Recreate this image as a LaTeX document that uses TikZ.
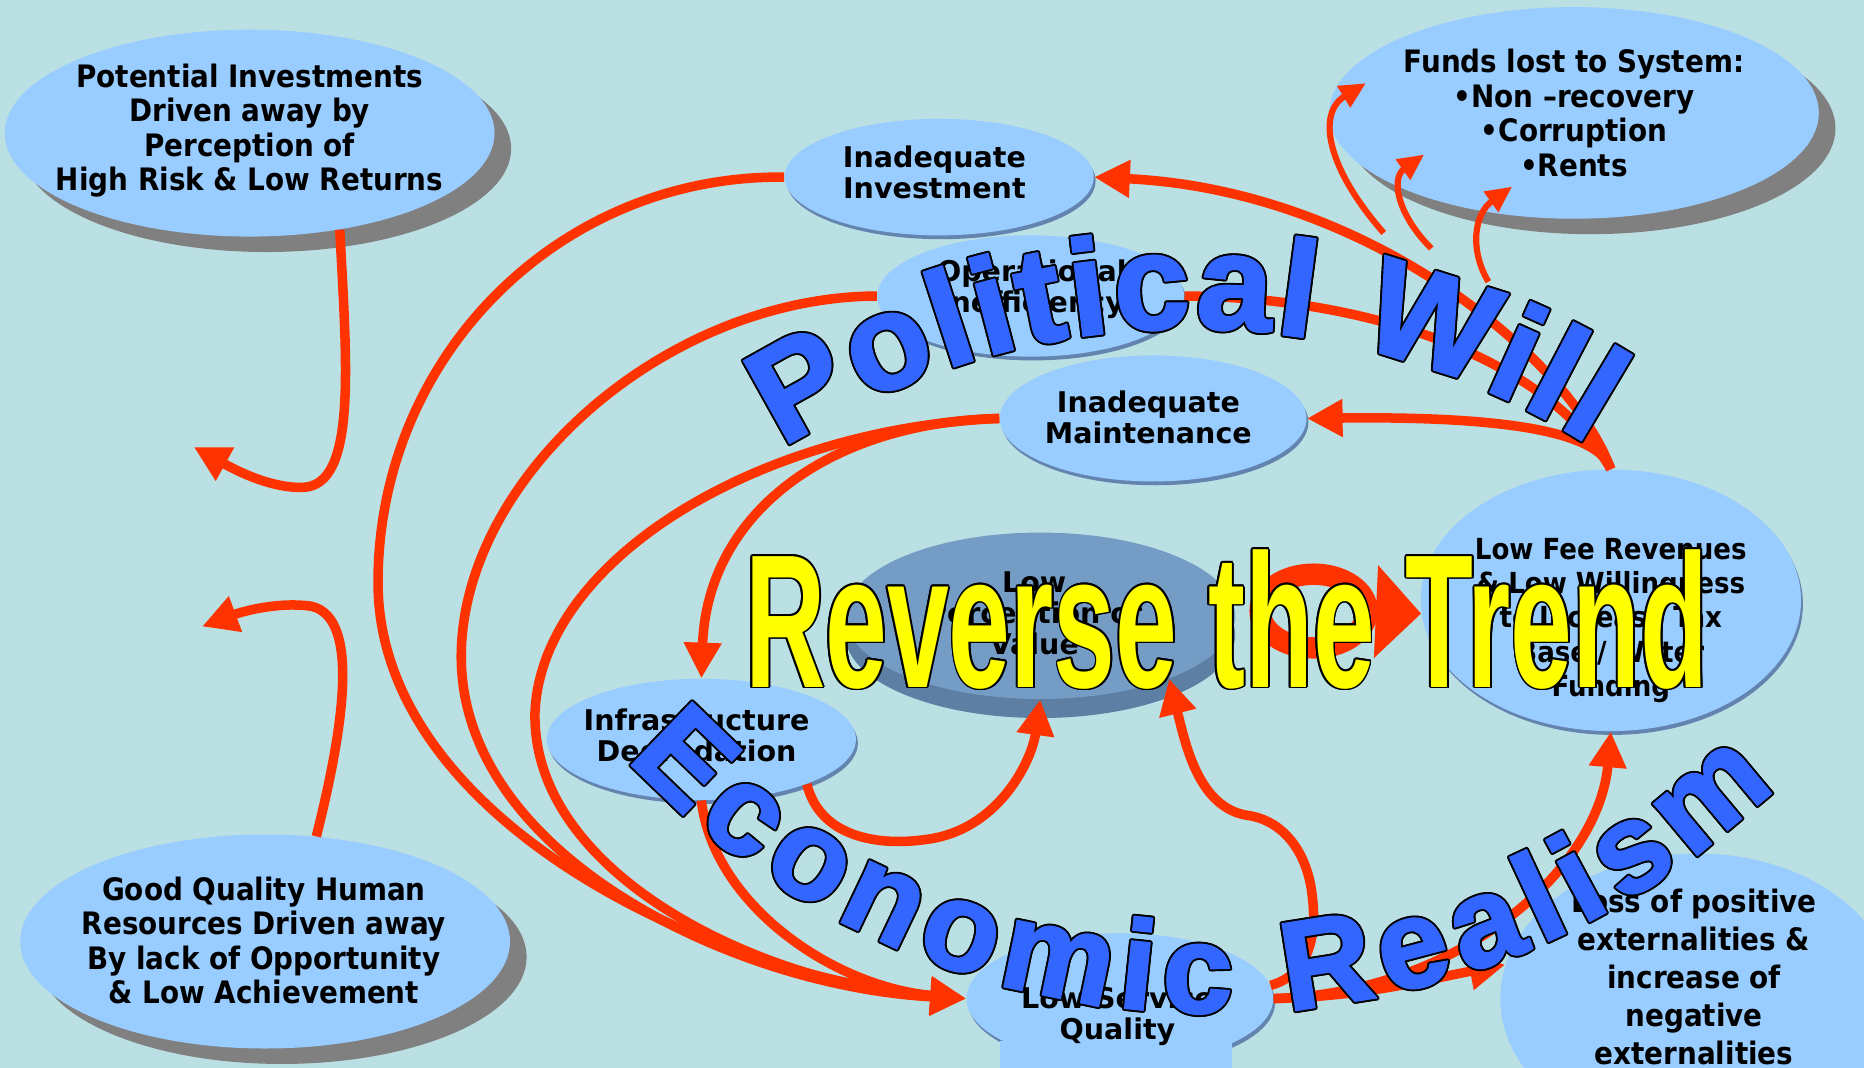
\documentclass[tikz,border=0pt]{standalone}
\usepackage{fontspec}
\usetikzlibrary{shapes.geometric,arrows.meta,shadows,decorations.text}
\newfontfamily\condb{DejaVu Sans Condensed Bold}
\newfontfamily\boldf{DejaVu Sans Bold}
\newfontfamily\wafont[FakeBold=2]{Liberation Sans Bold}
\newfontfamily\revfont{Liberation Sans Bold}
\definecolor{bgcol}{RGB}{187,224,227}
\definecolor{ellblue}{RGB}{153,204,255}
\definecolor{shgray}{RGB}{128,128,128}
\definecolor{edgeblue}{RGB}{100,132,176}
\definecolor{lptop}{RGB}{116,156,196}
\definecolor{lpband}{RGB}{93,127,163}
\definecolor{arrred}{RGB}{255,51,0}
\definecolor{wablue}{RGB}{51,102,255}
\definecolor{revyellow}{RGB}{255,255,0}
\begin{document}
\begin{tikzpicture}[x=0.5pt,y=-0.5pt,
  ell/.style={ellipse, fill=ellblue, inner sep=0pt},
  outerell/.style={ell, drop shadow={shadow xshift=7pt, shadow yshift=-6.5pt, fill=shgray, opacity=1}},
  innerell/.style={ell, drop shadow={shadow xshift=0.8pt, shadow yshift=-1.6pt, fill=edgeblue, opacity=1}},
  lpell/.style={ellipse, fill=lptop, inner sep=0pt, drop shadow={shadow xshift=0pt, shadow yshift=-8pt, fill=lpband, opacity=1}},
  otxt/.style={font=\condb\fontsize{13}{14.5}\selectfont, align=center, inner sep=0pt},
  itxt/.style={font=\boldf\fontsize{12}{13}\selectfont, align=center, inner sep=0pt},
  ftxt/.style={font=\condb\fontsize{12.2}{14.5}\selectfont, align=center, inner sep=0pt},
  ltxt/.style={font=\condb\fontsize{13}{16}\selectfont, align=center, inner sep=0pt},
  arr/.style={draw=arrred, line width=4pt, -{Triangle[length=15pt,width=15pt]}},
  plainline/.style={draw=arrred, line width=4pt},
  thinarr/.style={draw=arrred, line width=2.6pt, -{Triangle[length=11pt,width=10pt]}},
  ringline/.style={draw=arrred, line width=9pt},
  revtxt/.style={font=\revfont\fontsize{80}{80}\selectfont, anchor=base, inner sep=0pt}
]
\useasboundingbox (0,0) rectangle (1568,898);
\fill[bgcol] (0,0) rectangle (1568,898);

% ellipses
\node[outerell, minimum width=206pt, minimum height=87pt] (pot) at (210,112) {};
\node[outerell, minimum width=206pt, minimum height=90pt] (good) at (223,792) {};
\node[outerell, minimum width=206pt, minimum height=89pt] (funds) at (1324,95) {};
\node[ell, minimum width=166pt, minimum height=122pt] (loss) at (1428,840) {};
\node[innerell, minimum width=130pt, minimum height=49pt] (inv) at (790,149) {};
\node[innerell, minimum width=129pt, minimum height=51pt] (oper) at (867,249) {};
\node[innerell, minimum width=129pt, minimum height=53pt] (maint) at (970,352) {};
\node[lpell, minimum width=164pt, minimum height=70pt] (lp) at (875,518) {};
\node[innerell, minimum width=160pt, minimum height=110pt] (lowfee) at (1355,505) {};
\node[innerell, minimum width=130pt, minimum height=51pt] (infra) at (590,622) {};
\node[innerell, minimum width=129pt, minimum height=55pt] (lsq) at (942,840) {};
\fill[ellblue] (841,876) rectangle (1036,898);

% texts
\node[otxt] (potT) at (210,110) {Potential Investments\\Driven away by\\Perception of\\High Risk \& Low Returns};
\node[otxt] (goodT) at (222,791) {Good Quality Human\\Resources Driven away\\By lack of Opportunity\\\& Low Achievement};
\node[otxt] (fundsT) at (1324,95) {Funds lost to System:\\•Non –recovery\\•Corruption\\•Rents};
\node[ltxt] (lossT) at (1425,822) {Loss of positive\\externalities \&\\increase of\\negative\\externalities};
\node[itxt] (invT) at (786,145) {Inadequate\\Investment};
\node[itxt] (operT) at (868,243) {Operational\\Inefficiency};
\node[itxt] (maintT) at (966,351) {Inadequate\\Maintenance};
\node[itxt] (lpT) at (870,516) {Low\\Perception of\\Value};
\node[ftxt] (lowfeeT) at (1355,522) {Low Fee Revenues\\\& Low Willingness\\to Increase Tax\\Base / Water\\Funding};
\node[itxt] (infraT) at (586,621) {Infrastructure\\Degradation};
\node[itxt] (lsqT) at (940,855) {Low Service\\Quality};

% free ends
\coordinate (pfree) at (163,376);
\coordinate (gfree) at (170,527);
\coordinate (f1s) at (1164,196);
\coordinate (f1t) at (1149,70);
\coordinate (f2s) at (1204,209);
\coordinate (f2t) at (1198,130);
\coordinate (f3s) at (1252,237);
\coordinate (f3t) at (1272,157);
\coordinate (ringc) at (1105,514);

% arrows
\draw[arr] (pot.-47) .. controls (292,310) and (300,408) .. (255,410) .. controls (225,411) and (192,392) .. (pfree);
\draw[arr] (good.64) .. controls (287,620) and (305,520) .. (262,510) .. controls (235,506) and (205,514) .. (gfree);
\draw[arr] (inv.west) .. controls (470,147) and (318,300) .. (318,490) .. controls (318,690) and (600,822) .. (lsq.west);
\draw[arr] (oper.west) .. controls (560,250) and (390,400) .. (388,550) .. controls (386,720) and (620,830) .. (lsq.west);
\draw[arr] (maint.west) .. controls (640,360) and (455,470) .. (450,600) .. controls (448,740) and (650,830) .. (lsq.west);
\draw[arr] (maint.west) .. controls (700,355) and (595,430) .. (infra.north);
\draw[arr] (infra.south) .. controls (600,760) and (700,830) .. (lsq.west);
\draw[arr] (infra.-23) .. controls (690,705) and (740,712) .. (780,706) .. controls (840,698) and (868,640) .. (lp.south);
\draw[arr] (lsq.5) .. controls (1100,820) and (1108,790) .. (1104,755) .. controls (1100,715) and (1078,690) .. (1050,686) .. controls (1008,680) and (997,625) .. (lp.-26);
\draw[arr] (lsq.east) .. controls (1150,838) and (1200,824) .. (loss.170);
\draw[arr] (lsq.east) .. controls (1230,835) and (1345,730) .. (lowfee.south);
\draw[arr] (lowfee.north) .. controls (1345,362) and (1260,350) .. (maint.east);
\draw[arr] (lowfee.north) .. controls (1320,300) and (1150,160) .. (inv.east);
\draw[plainline] (lowfee.north) .. controls (1300,300) and (1150,250) .. (oper.east);
\draw[thinarr] (f1s) .. controls (1115,140) and (1108,95) .. (f1t);
\draw[thinarr] (f2s) .. controls (1175,180) and (1170,150) .. (f2t);
\draw[thinarr] (f3s) .. controls (1236,210) and (1240,180) .. (f3t);
\draw[ringline] (ringc) ellipse [x radius=22.5pt, y radius=15.5pt];
\draw[ringline, -{Triangle[length=19pt,width=38pt]}] ([xshift=21pt]ringc) -- (lowfee.184);

% Political Will
\foreach \a in {0,30,...,330}{
  \path[shift={({1.6*cos(\a)},{1.6*sin(\a)})}, decorate, decoration={text along path, text align={fit to path}, text={|\wafont\fontsize{57}{57}\selectfont\color{black}|Political Will}}]
    plot[domain=-123:-57.5, samples=60] ({1000+627*cos(\x)},{903+627*sin(\x)});
}
\path[decorate, decoration={text along path, text align={fit to path}, text={|\wafont\fontsize{57}{57}\selectfont\color{wablue}|Political Will}}]
    plot[domain=-123:-57.5, samples=60] ({1000+627*cos(\x)},{903+627*sin(\x)});

% Economic Realism
\foreach \a in {0,30,...,330}{
  \path[shift={({1.6*cos(\a)},{1.6*sin(\a)})}, decorate, decoration={text along path, text align={fit to path}, text={|\wafont\fontsize{53}{53}\selectfont\color{black}|Economic Realism}}]
    plot[domain=-136.7:-46.1, samples=80] ({1022+680*cos(\x)},{172-680*sin(\x)});
}
\path[decorate, decoration={text along path, text align={fit to path}, text={|\wafont\fontsize{53}{53}\selectfont\color{wablue}|Economic Realism}}]
    plot[domain=-136.7:-46.1, samples=80] ({1022+680*cos(\x)},{172-680*sin(\x)});

% Reverse the Trend
\coordinate (revc) at (1032,578);
\foreach \a in {0,30,...,330}{
  \node[revtxt, text=black] (revo\a) at ([shift={({1.5*cos(\a)},{1.5*sin(\a)})}]revc) {\scalebox{0.584}[1]{Reverse the Trend}};
}
\node[revtxt, text=revyellow] (rev) at (revc) {\scalebox{0.584}[1]{Reverse the Trend}};
\end{tikzpicture}
\end{document}
